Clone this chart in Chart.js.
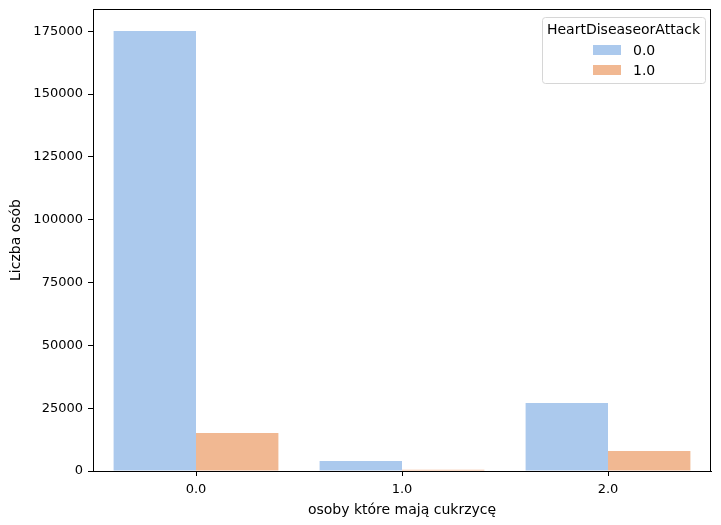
<!DOCTYPE html>
<html>
<head>
<meta charset="utf-8">
<script src="https://cdn.jsdelivr.net/npm/chart.js@4"></script>
<style>
  html, body { margin: 0; padding: 0; background: #fff; }
  #wrap { width: 721px; height: 525px; }
</style>
</head>
<body>
<div id="wrap"><canvas id="chart" width="721" height="525"></canvas></div>
<script>
// dane
const categories = ['0.0', '1.0', '2.0'];
const noHeart = [175100, 4000, 27100];   // HeartDiseaseorAttack = 0.0
const heart = [15150, 450, 7980];        // HeartDiseaseorAttack = 1.0
const seriesLabels = ['0.0', '1.0'];
const yTicks = [0, 25000, 50000, 75000, 100000, 125000, 150000, 175000];

const FONT = 'DejaVu Sans';
const colors = ['#abc9ed', '#f1b892'];

// ramka wokol obszaru wykresu + legenda w prawym gornym rogu
const framePlugin = {
  id: 'frame',
  afterDraw(chart) {
    const { ctx, chartArea: a } = chart;
    ctx.save();
    ctx.strokeStyle = '#000';
    ctx.lineWidth = 1;
    ctx.strokeRect(a.left + 0.5, a.top + 0.5, a.right - a.left - 1, a.bottom - a.top);

    // legenda
    const bx = a.right - 169, by = a.top + 8, bw = 163, bh = 66;
    ctx.fillStyle = 'rgba(255,255,255,0.8)';
    ctx.strokeStyle = '#d6d6d6';
    ctx.beginPath();
    ctx.roundRect(bx + 0.5, by + 0.5, bw, bh, 3);
    ctx.fill();
    ctx.stroke();
    ctx.fillStyle = '#000';
    ctx.font = '14px "' + FONT + '"';
    ctx.textAlign = 'center';
    ctx.textBaseline = 'middle';
    ctx.fillText('HeartDiseaseorAttack', bx + bw / 2, by + 13);
    ctx.textAlign = 'left';
    chart.data.datasets.forEach((ds, i) => {
      const y = by + 33 + i * 20;
      ctx.fillStyle = ds.backgroundColor;
      ctx.fillRect(bx + 51, y - 5, 28, 10);
      ctx.fillStyle = '#000';
      ctx.fillText(ds.label, bx + 91, y + 1);
    });
    ctx.restore();
  }
};

new Chart(document.getElementById('chart'), {
  type: 'bar',
  data: {
    labels: categories,
    datasets: [
      { label: seriesLabels[0], data: noHeart, backgroundColor: colors[0] },
      { label: seriesLabels[1], data: heart, backgroundColor: colors[1] }
    ]
  },
  options: {
    responsive: false,
    animation: false,
    devicePixelRatio: 1,
    layout: { padding: { top: 9, right: 10, left: 0, bottom: 0 } },
    datasets: { bar: { categoryPercentage: 0.8, barPercentage: 1.0, borderWidth: 0 } },
    plugins: { legend: { display: false }, tooltip: { enabled: false } },
    scales: {
      x: {
        offset: true,
        grid: { drawOnChartArea: false, drawTicks: true, tickLength: 5, color: '#000', offset: false },
        border: { display: true, color: '#000' },
        ticks: { color: '#000', padding: 6, font: { family: FONT, size: 13 } },
        title: { display: true, text: 'osoby które mają cukrzycę', color: '#000', padding: { top: 4, bottom: 6 }, font: { family: FONT, size: 14 } },
        afterFit(scale) { scale.height = 54; scale.paddingLeft = 0; scale.paddingRight = 0; }
      },
      y: {
        min: 0,
        max: 183850,
        grid: { drawOnChartArea: false, drawTicks: true, tickLength: 5, color: '#000' },
        border: { display: true, color: '#000' },
        afterBuildTicks(scale) { scale.ticks = yTicks.map(v => ({ value: v })); },
        ticks: { color: '#000', padding: 5, font: { family: FONT, size: 13 }, callback: v => String(v) },
        title: { display: true, text: 'Liczba osób', color: '#000', padding: { top: 8, bottom: 4 }, font: { family: FONT, size: 14 } },
        afterFit(scale) { scale.width = 93; scale.paddingTop = 0; scale.paddingBottom = 0; }
      }
    }
  },
  plugins: [framePlugin]
});
</script>
</body>
</html>
